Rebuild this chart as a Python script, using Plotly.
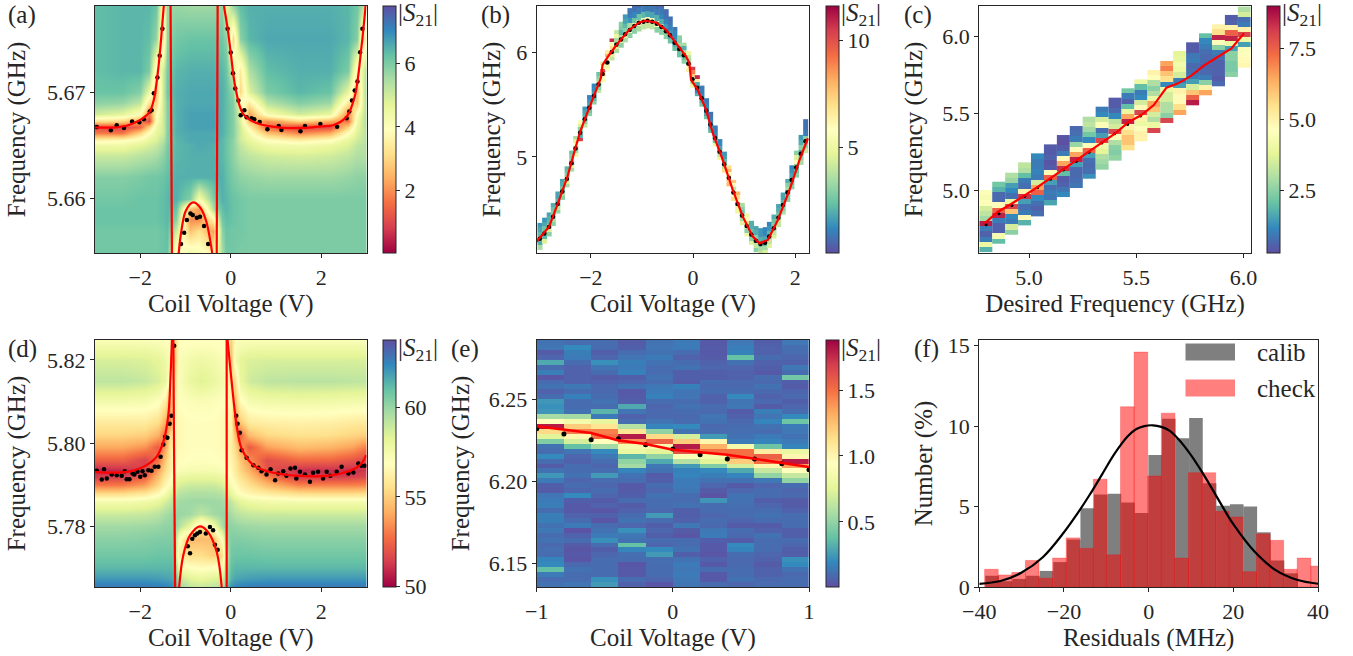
import numpy as np
import plotly.graph_objects as go

W, H = 1353, 656
FONT = "Liberation Serif"
INK = "#262626"

# ---------- panel (a) ----------
a_x = [-3,-2.4,-2,-1.8,-1.65,-1.5,-1.4,-1.2,-0.9,-0.7,-0.4,-0.2,-0.1,0.05,0.2,0.4,0.8,1.5,2.2,2.6,2.8,2.92,3]
a_y = [5.6781,5.675,5.672,5.670,5.669,5.668,5.6673,5.6667,5.6662,5.6655,5.665,5.664,5.662,5.660,5.659,5.658,5.657,5.6549]
a_z = [
 [6.3,6.4,6.4,6.4,6.2,4.0,5.6,5.7,5.6,5.6,5.6,5.7,4.5,5.7,6.3,6.5,6.5,6.5,6.5,6.4,6.1,5.4,3.5],
 [6.3,6.4,6.4,6.3,5.7,3.2,5.7,6.1,6.2,6.2,6.2,6.1,5.8,3.0,5.8,6.4,6.6,6.6,6.6,6.4,5.9,3.0,4.0],
 [6.3,6.4,6.4,6.0,3.5,5.0,6.0,6.4,6.5,6.5,6.5,6.4,6.2,4.8,3.4,5.4,6.3,6.5,6.5,6.0,3.5,4.8,5.6],
 [6.2,6.2,5.9,4.5,2.6,5.0,6.1,6.5,6.6,6.6,6.6,6.5,6.3,5.7,3.0,4.8,6.0,6.4,6.2,4.6,2.5,4.8,5.7],
 [5.8,5.7,5.2,3.2,3.0,5.0,5.9,6.5,6.6,6.6,6.6,6.5,6.3,5.9,4.3,3.4,5.3,5.9,5.6,3.3,2.8,4.8,5.6],
 [5.0,4.7,4.0,1.7,3.8,5.0,5.9,6.5,6.7,6.7,6.7,6.5,6.3,5.9,4.8,2.2,4.2,5.0,4.6,1.9,4.0,5.0,5.5],
 [3.2,3.0,2.0,1.0,4.0,5.0,5.9,6.5,6.7,6.7,6.7,6.5,6.3,5.9,4.8,2.6,2.0,3.0,2.4,1.6,4.4,5.1,5.5],
 [1.0,1.0,1.5,3.0,4.4,5.0,5.9,6.5,6.7,6.7,6.7,6.5,6.3,5.9,5.0,3.6,1.5,0.9,1.1,3.0,4.6,5.1,5.4],
 [1.8,1.7,3.0,4.0,4.6,5.0,5.9,6.5,6.6,6.6,6.6,6.5,6.3,5.9,5.0,4.2,2.7,1.9,2.4,3.9,4.8,5.1,5.4],
 [3.6,3.8,4.2,4.6,4.8,5.3,5.9,6.4,6.6,6.6,6.6,6.4,6.2,5.8,5.0,4.6,3.9,3.5,3.9,4.6,5.0,5.2,5.4],
 [4.4,4.4,4.7,4.9,5.1,5.5,6.0,6.4,6.5,6.6,6.5,6.4,6.2,5.8,5.2,4.8,4.4,4.3,4.5,4.8,5.2,5.3,5.4],
 [5.1,5.1,5.3,5.4,5.5,5.8,6.1,6.4,6.5,6.5,6.5,6.4,6.2,5.8,5.4,5.2,5.0,4.9,5.0,5.2,5.4,5.4,5.4],
 [5.9,5.9,6.0,6.1,6.1,6.2,6.3,6.5,6.5,6.5,6.5,6.5,6.3,6.0,5.8,5.7,5.6,5.6,5.6,5.7,5.8,5.8,5.8],
 [6.1,6.1,6.2,6.2,6.2,6.3,6.4,6.5,5.9,4.2,5.9,6.5,6.4,6.2,6.1,6.0,6.0,6.0,6.0,6.0,6.0,6.0,6.0],
 [6.2,6.2,6.2,6.2,6.2,6.3,6.4,6.2,2.6,2.2,5.4,6.3,6.4,6.2,6.1,6.0,6.0,6.0,6.0,6.0,6.0,6.0,6.0],
 [6.2,6.2,6.2,6.2,6.2,6.3,6.4,5.8,2.0,2.0,3.5,6.1,6.3,6.2,6.1,6.0,6.0,6.0,6.0,6.0,6.0,6.0,6.0],
 [6.1,6.1,6.1,6.1,6.1,6.2,6.3,5.0,2.7,3.2,2.2,5.8,6.2,6.1,6.1,6.0,6.0,6.0,6.0,6.0,6.0,6.0,6.0],
 [6.1,6.1,6.1,6.1,6.1,6.2,6.2,3.6,4.4,4.2,3.6,5.5,6.1,6.1,6.0,6.0,6.0,6.0,6.0,6.0,6.0,6.0,6.0],
]
a_dots_x = [-2.96,-2.65,-2.52,-2.36,-2.18,-2.02,-1.92,-1.79,-1.75,-1.70,-1.62,-1.57,-1.51,
            -0.07,0.0,0.05,0.10,0.17,0.22,0.30,0.35,0.46,0.52,0.64,0.81,1.06,1.12,1.54,1.64,1.98,2.35,2.56,2.62,2.68,2.74,2.80,2.86,2.91,
            -1.10,-1.03,-0.97,-0.89,-0.84,-0.75,-0.68,-0.59,-0.50]
a_dots_y = [5.66674,5.66643,5.66690,5.66665,5.66724,5.66718,5.66746,5.66818,5.66831,5.66991,5.67138,5.67342,5.67596,
            5.67596,5.67373,5.67179,5.67034,5.66922,5.66784,5.66831,5.66765,5.66755,5.66746,5.66721,5.66652,5.66683,5.66646,5.66633,5.66683,5.66702,5.66677,5.66755,5.66818,5.66922,5.67016,5.67100,5.67376,5.67596,
            5.65574,5.65680,5.65799,5.65862,5.65846,5.65821,5.65831,5.65743,5.65574]
a_left_x = [-3,-2.6,-2.3,-2.0,-1.8,-1.7,-1.63,-1.57,-1.52,-1.48]
a_left_y = [5.66670,5.66668,5.66685,5.6674,5.6681,5.6693,5.6712,5.6735,5.6760,5.6781]
a_right_x = [-0.15,-0.07,0.0,0.1,0.27,0.57,1.16,1.6,2.0,2.26,2.56,2.74,2.89,2.98]
a_right_y = [5.6781,5.6760,5.6737,5.6705,5.6680,5.6671,5.66665,5.66665,5.6668,5.6669,5.6677,5.6696,5.6743,5.6781]
a_par_x = [-1.15,-1.09,-0.99,-0.83,-0.68,-0.55,-0.41]
a_par_y = [5.6549,5.6570,5.6589,5.65965,5.6592,5.6580,5.6549]
a_v1_x = [-1.33,-1.30]
a_v2_x = [-0.29,-0.31]
a_v_y = [5.6781,5.6549]

# ---------- panel (b) ----------
b_dots_x = [-3.00,-2.91,-2.82,-2.74,-2.65,-2.56,-2.47,-2.38,-2.30,-2.21,-2.12,-2.03,-1.94,-1.85,-1.77,-1.68,-1.59,-1.50,-1.41,-1.33,
            -1.24,-1.15,-1.06,-0.97,-0.89,-0.80,-0.71,-0.62,-0.53,-0.45,-0.36,-0.27,-0.18,-0.09,-0.01,0.08,0.17,0.26,0.34,0.43,
            0.52,0.61,0.70,0.79,0.87,0.96,1.05,1.14,1.23,1.32,1.41,1.49,1.58,1.67,1.76,1.85,1.93,2.02,2.11,2.20]
b_dots_y = [4.22,4.27,4.33,4.43,4.55,4.67,4.79,4.94,5.08,5.23,5.36,5.47,5.58,5.69,5.79,5.90,6.00,6.07,6.12,6.17,
            6.21,6.25,6.28,6.29,6.30,6.29,6.27,6.24,6.20,6.16,6.09,6.03,5.97,5.89,5.74,5.66,5.56,5.44,5.31,5.18,
            5.05,4.93,4.80,4.66,4.55,4.44,4.34,4.26,4.20,4.17,4.18,4.24,4.32,4.42,4.54,4.66,4.78,4.90,5.03,5.15]
b_stripes = [
 [1.5,1.8,2.2,2.6,2.0,3.5],[1.5,1.8,2.5,3,2.2,4.5],[1.8,2,2.2,3,4.5,3],[2,2.5,3,4,3.5,3],[1.8,1.8,2.2,2.6,4,3.2],
 [1.8,2,2.5,2.6,3.5,3],[2.2,2.5,3,4,4.5,3.5],[2.5,2.8,3.2,2.2,5,3.5],[3.5,4.5,6,3,3.5,5],[5.5,4.5,3,2.5,2,10.5],
 [1.5,1.8,2,2.5,3,4],[1.2,1.5,1.8,2,2.5,3],[1.2,1.3,1.6,2,2.2,3],[2.5,3,3.5,2.5,3,4],[4.5,6,10.5,8,6,5.5],
 [6.5,8,6,3,5,6],[10.8,5.5,7,6,4.5,4],[4,5,3.5,3,4.5,3.5],[3,2.8,2.2,3.5,4.5,3],[1.6,1.8,2.2,3,5,3.5],
 [0.9,1,1.5,3.5,5.5,3],[0.7,.8,1.2,2.5,5.5,3],[.6,.7,1,2.5,6,3.5],[.5,.6,1,2.2,6,4],[.5,.6,.9,1.8,6,4],
 [.5,.7,.9,1.8,5.5,4],[.6,.7,1,2,5.5,3],[.7,.9,1.2,2,3.5,3],[.7,.8,1.1,1.6,3,3],[.8,.9,1.1,1.5,2,2.5],
 [1,1.2,1.2,1.5,2,2.5],[3,3,3.5,2.5,2.5,2.5],[3.5,2,3.5,3,2.5,3],[5,4,3.5,2,6,6.5],[10.5,9,7.5,5.5,3.5,5],
 [10.8,6.5,2,1.2,1.2,2],[1,1,1.2,1.4,2,2.5],[.9,1,1.2,1.5,1.8,2.5],[.8,.9,1.1,1.4,1.8,2.2],[1,1,1.2,1.5,2.5,5],
 [1.2,1.3,1.8,2.5,4,5],[1.5,1.6,2.2,3,4,7],[7,8,6,6,7.5,8],[7.5,6,4,5,6,7],[8,7,6,4,5,5],
 [3.5,3,2.5,3,3.5,4.5],[5,6,7,4,3,5],[2,2,2.5,3,3,4.5],[1.8,2,3,2.2,4,3],[1.5,1.5,2,3,3.5,4],
 [1.2,1.2,1.8,2.2,3.5,4.5],[1.2,1.5,2.2,3,4,4.5],[2,2.5,3,3.5,4,4.5],[1.8,2,2.5,3,4,4],[1.8,1.8,2.2,2.5,3,3.5],
 [2,3,3.5,2,3,3],[1.2,1.4,1.8,2,2.5,3],[3,4.5,6,3,2.5,3],[1.6,2,3,2,3,3.5],[.8,.8,1,3,3,4],
]
b_above = [.15,.15,.14,.13,.12,.12,.12,.12,.12,.12,.12,.12,.12,.12,.12,.12,.13,.14,.17,.19,
           .21,.23,.25,.26,.26,.26,.25,.23,.21,.18,.15,.13,.12,.12,.12,.12,.12,.12,.12,.12,
           .12,.12,.12,.12,.12,.12,.12,.13,.14,.15,.15,.14,.13,.13,.12,.13,.14,.16,.18,.21]
b_below = [.11,.1,.09,.09,.09,.08,.08,.08,.08,.08,.08,.08,.08,.08,.08,.08,.08,.08,.08,.08,
           .08,.08,.08,.07,.07,.07,.08,.08,.08,.08,.08,.08,.08,.08,.08,.08,.08,.08,.08,.08,
           .08,.08,.08,.08,.09,.09,.1,.1,.11,.12,.12,.11,.1,.09,.09,.09,.09,.1,.11,.115]
b_cell = 0.0885
b_line_x = [-3.065,-2.817,-2.62,-2.458,-2.294,-2.196,-2.098,-1.967,-1.869,-1.804,-1.771,-1.64,-1.444,-1.248,-1.052,-0.922,-0.725,-0.529,-0.333,-0.137,-0.072,-0.039,0.092,0.255,0.386,0.582,0.778,0.974,1.17,1.301,1.464,1.66,1.889,2.085,2.248]
b_line_y = [4.191,4.334,4.589,4.812,5.099,5.258,5.385,5.545,5.672,5.752,5.879,5.975,6.102,6.213,6.283,6.299,6.283,6.213,6.086,5.959,5.895,5.736,5.64,5.449,5.226,4.971,4.685,4.43,4.239,4.175,4.207,4.398,4.685,4.971,5.178]

# ---------- panel (c) ----------
c_left = 4.768
c_cell = 0.0603
c_tops = [5.0045,5.0586,5.1171,5.1842,5.2426,5.3010,5.3616,5.4201,5.4807,5.5456,5.6041,5.6647,5.7231,5.7837,5.8422,5.9071,5.9634,6.0218,6.0803,6.1409,6.195]
c_bots = [4.6,4.658,4.7166,4.773,4.836,4.9028,4.9612,5.02,5.0759,5.1344,5.1950,5.2599,5.3184,5.3768,5.4374,5.4915,5.5521,5.6170,5.6798,5.7404,5.7989]
c_stripes = [
 [4.5,4.3,4.5,3.5,3.2,2.8,8.6,1.0,0.6,1.0,4.0,1.8],
 [2.2,1.8,.7,.7,4.5,7.5,8.5,1,.6,.6,4.3,2.0],
 [3,2.7,1.5,1.2,.8,4,8,6,1.2,1,3.5,2.5],
 [3.2,3,2,1,.8,5,8.3,1.5,.8,1,4.8,1.8],
 [1.2,1,1,1.1,1,3.5,6.5,7.5,1.2,.8,.6,.8],
 [.5,.5,.6,.4,.5,4.5,7.5,1.5,.8,1,.9,1.6],
 [.4,.3,.5,1,4.8,6.5,8.3,2,.5,.6,.9,1.2],
 [.7,.8,1,2.7,4.5,6.5,8.5,1.5,.7,.7,.8,.9],
 [3,3.2,2.8,2.2,1.2,4.5,7.5,1.5,.8,.7,.8,1.3],
 [1,1.2,3.5,4.5,.8,1.5,8,4.2,3.8,3,2.8,2.6],
 [.5,.5,.7,1.2,3.2,3.5,8,4.5,3,2.5,2.4,2.6],
 [2.2,1,.6,2,4,6.5,8.5,5,5.5,6,6,5.5],
 [4,2,1,1.2,3.5,4.8,8,5,4,4.5,5,5],
 [5,4.5,3,2.5,3,4,6.5,6,3.5,3,4,8],
 [6.5,7,6,5.5,1.2,4,3.5,3.5,3,3,2.5,8],
 [3.8,3.9,4.2,4,3.5,1,1.5,5,4.8,4.8,5.5,6.5],
 [.5,.5,.9,1,.7,.8,1,1.5,3.5,6,7.5,8.6],
 [2,1.2,1,.8,.7,.7,.6,.7,1,2.5,5,6.5],
 [5,5.5,8.5,4.5,2.5,1,.8,.6,.6,.6,.5,.7],
 [.5,.6,5,7.5,8.5,4,1.5,2.5,2.5,2.3,2.3,2.5],
 [3,3.5,.8,1,5,8,4,1.5,4.5,4.6,4.8,4.9],
]
c_line_x = [4.793,4.855,4.917,4.98,5.042,5.104,5.166,5.228,5.283,5.345,5.407,5.462,5.524,5.582,5.641,5.696,5.757,5.82,5.882,5.944,6.003]
c_line_y = [4.788,4.864,4.914,4.968,5.026,5.085,5.145,5.204,5.258,5.318,5.377,5.444,5.491,5.556,5.669,5.697,5.747,5.816,5.870,5.924,6.022]
c_dots_x = [4.80,4.86,4.92,4.98,5.04,5.10,5.16,5.22,5.28,5.34,5.40,5.46,5.52]
c_dots_y = [4.78,4.85,4.905,4.965,5.02,5.075,5.135,5.19,5.25,5.31,5.37,5.43,5.485]

# ---------- panel (d) ----------
d_x = [-3,-2.4,-1.9,-1.6,-1.45,-1.35,-1.25,-1.15,-0.9,-0.65,-0.4,-0.2,-0.1,0,0.1,0.2,0.4,0.8,1.5,2.2,2.7,3]
d_y = [5.8248,5.820,5.815,5.810,5.805,5.802,5.799,5.796,5.7935,5.792,5.790,5.788,5.786,5.783,5.780,5.777,5.773,5.770,5.7675,5.7654]
d_z = [
 [57.2,57.2,57.2,57.1,57,56.8,55,56.8,56.8,56.8,56.8,56.8,56.8,55,57,57.1,57.2,57.2,57.2,57.2,57.2,57.2],
 [58.6,58.6,58.5,58.2,57.8,57.2,54,57.2,57.6,57.8,57.6,57.2,57,54.5,57.5,58.2,58.5,58.6,58.6,58.6,58.6,58.6],
 [59.2,59.2,59,58.6,58,56.5,55,57.2,58,58.4,58,57.5,57.1,55.5,55.5,58,58.8,59.2,59.3,59.3,59.2,59.2],
 [57.5,57.5,57.4,57,56,54,56,56.9,57.1,57.2,57.1,56.9,56.8,56.5,54.5,56.6,57.4,57.6,57.7,57.6,57.5,57.5],
 [56,56,56,55.5,54.2,53,56.4,56.6,56.8,56.8,56.8,56.6,56.5,56.3,53,54.8,56,56.2,56.3,56.2,56,55.9],
 [55.2,55.2,55,54.2,52.5,55.5,56.4,56.6,56.8,56.8,56.8,56.6,56.5,56.2,54.5,52.5,54.5,55.3,55.6,55.5,55.2,55],
 [54,54,53.5,52.2,53.8,55.8,56.4,56.6,56.8,56.8,56.8,56.6,56.5,56.2,55.3,53.8,52.2,53.8,54.5,54.3,53.8,53],
 [52.4,52.4,51.5,52.8,54.8,56,56.6,56.8,56.9,57,56.9,56.8,56.7,56.4,55.8,54.8,53.5,51.8,52.6,52.5,52,51.5],
 [50.8,50.9,51.5,53.8,55.4,56.2,56.8,57.2,57.4,57.4,57.4,57.2,56.8,56.6,56,55.2,54.2,52,51,51,51,51.2],
 [51.3,51.3,52.3,54.5,55.8,56.6,57.4,57.8,58,58,58,57.8,57.3,56.8,56.2,55.6,54.8,53,51.2,51.2,51.4,51.6],
 [53,53,53.8,55.3,56.5,57.2,58.1,58.6,58.9,58.9,58.9,58.6,58,57.4,56.8,56.2,55.6,54.5,53.2,53.2,53.2,53.3],
 [55.3,55.3,55.8,56.6,57.4,58.2,58.9,59.3,59.5,59.5,59.5,59.3,58.8,58,57.4,56.8,56.4,56,55.4,55.3,55.3,55.4],
 [57.4,57.4,57.6,58,58.6,59,59.5,59.8,59.9,59.9,59.9,59.8,59.5,59,58.6,58.2,57.8,57.5,57.4,57.4,57.4,57.4],
 [58.9,58.9,59,59.3,59.7,59.9,60,60,59.8,59.2,59.8,60,60,59.7,59.4,59.2,59,58.9,58.9,58.9,58.9,58.9],
 [59.8,59.8,59.9,60,60.2,60.2,60.3,59.4,58,55.5,57.5,59.6,60.2,60.2,60.1,60,59.9,59.8,59.8,59.8,59.8,59.8],
 [60.3,60.3,60.4,60.5,60.5,60.5,60.3,57,54.5,54.5,54.5,57,59.8,60.5,60.5,60.5,60.4,60.3,60.3,60.3,60.3,60.3],
 [60.8,60.8,60.8,60.9,60.9,60.9,60.5,56,55.5,55.5,55,55.5,59,60.8,60.9,60.9,60.9,60.8,60.8,60.8,60.8,60.8],
 [61.3,61.3,61.3,61.3,61.3,61.3,61,57.5,57,56.8,57,57,59.5,61.1,61.3,61.3,61.3,61.3,61.3,61.3,61.3,61.3],
 [62,62,62,61.9,61.8,61.7,61.5,59,58.3,58,58.3,58.5,60,61.4,61.7,61.8,61.9,62,62,62,62,62],
 [62.8,62.8,62.8,62.7,62.6,62.4,62.1,60,59.2,59,59.2,59.5,60.8,62.2,62.5,62.6,62.7,62.8,62.8,62.8,62.8,62.8],
]
d_dots_x = [-2.96,-2.85,-2.80,-2.74,-2.63,-2.52,-2.41,-2.34,-2.30,-2.24,-2.17,-2.13,-2.06,-2.0,-1.95,-1.90,-1.82,-1.75,-1.68,-1.60,-1.55,-1.49,-1.45,-1.40,-1.35,-1.31,-1.25,
            0.12,0.15,0.20,0.24,0.35,0.50,0.61,0.68,0.79,0.88,0.98,1.05,1.16,1.23,1.32,1.42,1.45,1.53,1.64,1.75,1.82,1.93,2.04,2.12,2.20,2.34,2.45,2.60,2.71,2.82,2.89,2.96,
            -0.95,-0.90,-0.85,-0.79,-0.74,-0.68,-0.55,-0.46,-0.39,-0.35,-0.29]
d_dots_y = [5.79334,5.79125,5.79374,5.79149,5.79245,5.79229,5.79213,5.79325,5.79133,5.79133,5.79269,5.79245,5.79309,5.79189,5.79325,5.79229,5.7935,5.79334,5.7943,5.7943,5.7967,5.79968,5.80153,5.80128,5.80466,5.80658,5.8234,
            5.80658,5.80466,5.80249,5.79831,5.79647,5.7947,5.79406,5.79325,5.79245,5.79374,5.79109,5.79269,5.79325,5.79213,5.7939,5.79406,5.79149,5.79309,5.79245,5.79069,5.79285,5.79309,5.79149,5.79309,5.79213,5.79309,5.7943,5.79269,5.79293,5.7951,5.79454,5.79454,
            5.77519,5.7735,5.77703,5.77784,5.77824,5.77864,5.77824,5.77984,5.77904,5.77559,5.77438]
d_left_x = [-3,-2.52,-2.15,-1.86,-1.64,-1.49,-1.38,-1.33,-1.30]
d_left_y = [5.7931,5.7929,5.7934,5.7947,5.7967,5.8003,5.8067,5.8164,5.8248]
d_right_x = [-0.07,0.02,0.13,0.24,0.5,0.79,1.53,2.26,2.71,2.89,2.99]
d_right_y = [5.8248,5.8148,5.8043,5.7987,5.7947,5.7933,5.7921,5.7923,5.7937,5.7951,5.7971]
d_par_x = [-1.14,-1.05,-0.90,-0.68,-0.5,-0.31,-0.20]
d_par_y = [5.7654,5.7730,5.7778,5.7800,5.7786,5.7738,5.7654]
d_v1_x = [-1.27,-1.23]
d_v2_x = [-0.09,-0.09]
d_v_y = [5.8248,5.7654]

# ---------- panel (e) ----------
e_x = [-1,-0.8,-0.6,-0.4,-0.2,0,0.2,0.4,0.6,0.8,1]
e_top, e_bottom = 6.2859, 6.1358
e_z = [
 [.12,.1,.1,.05,.12,.15,.04,.14,.06,.14],[.13,.2,.1,.06,.13,.15,.05,.16,.07,.11],[.05,.16,.06,.1,.12,.1,.04,.17,.07,.1],
 [.08,.15,.08,.13,.15,.07,.05,.38,.1,.08],[.3,.1,.22,.16,.12,.1,.07,.12,.07,.07],[.1,.07,.13,.15,.1,.12,.08,.08,.06,.14],
 [.16,.07,.1,.17,.1,.06,.06,.07,.04,.1],[.03,.07,.05,.06,.12,.06,.06,.07,.1,.42],[.1,.07,.07,.08,.1,.05,.1,.09,.09,.06],
 [.12,.14,.09,.12,.14,.17,.09,.09,.12,.05],[.07,.1,.09,.04,.15,.13,.1,.1,.09,.08],[.1,.17,.1,.05,.17,.13,.07,.2,.07,.09],
 [.24,.1,.12,.06,.1,.1,.07,.13,.09,.06],[.22,.1,.1,.3,.08,.12,.1,.14,.05,.08],[.24,.12,.34,.13,.09,.1,.09,.05,.16,.1],
 [.56,.55,.15,.07,.09,.09,.13,.07,.13,.2],[.95,.85,.78,.1,.13,.1,.12,.09,.18,.4],[1.8,1.2,1.1,.6,.18,.2,.09,.1,.12,.15],
 [1.15,1.45,1.45,1.1,.5,.12,.1,.11,.1,.14],[.75,1.0,1.5,1.8,1.15,.7,.25,.12,.15,.12],[.45,.7,.95,1.4,1.55,1.2,1.0,.15,.18,.15],
 [.12,.38,.55,.85,1.0,1.8,1.3,.85,.4,.18],[.1,.13,.2,.8,.75,1.6,1.5,1.5,1.05,.8],[.2,.08,.14,.35,.5,.9,.85,1.5,1.55,1.0],
 [.1,.07,.1,.5,.3,.6,.75,1.2,1.5,1.8],[.05,.1,.08,.55,.14,.25,.45,.7,1.0,1.35],[.12,.1,.1,.18,.12,.17,.2,.3,.65,.95],
 [.24,.12,.25,.12,.05,.18,.16,.18,.5,.65],[.15,.08,.1,.1,.06,.15,.12,.12,.14,.5],[.06,.1,.08,.04,.1,.15,.08,.05,.08,.1],
 [.05,.08,.1,.05,.08,.14,.05,.08,.1,.08],[.13,.2,.08,.06,.12,.1,.02,.12,.1,.09],[.15,.06,.05,.1,.1,.1,.24,.12,.06,.05],
 [.16,.04,.07,.05,.1,.12,.1,.11,.08,.05],[.1,.04,.03,.07,.09,.06,.1,.1,.1,.07],[.16,.07,.07,.1,.25,.06,.08,.1,.12,.1],
 [.16,.1,.03,.12,.1,.07,.1,.08,.1,.1],[.12,.15,.1,.08,.06,.14,.09,.05,.05,.1],[.14,.02,.12,.22,.08,.05,.14,.1,.07,.06],
 [.1,.07,.15,.14,.06,.03,.15,.09,.12,.06],[.12,.1,.22,.12,.1,.1,.06,.05,.1,.1],[.09,.05,.1,.38,.08,.1,.04,.2,.1,.08],
 [.11,.03,.06,.18,.2,.12,.04,.18,.1,.06],[.1,.04,.08,.11,.25,.06,.03,.1,.08,.06],[.18,.03,.1,.1,.11,.12,.07,.09,.07,.22],
 [.2,.09,.1,.03,.1,.15,.04,.09,.05,.2],[.37,.12,.1,.04,.1,.14,.1,.1,.07,.12],[.15,.1,.1,.04,.1,.15,.04,.1,.07,.09],
 [.1,.1,.22,.1,.08,.14,.04,.12,.09,.1],[.12,.13,.25,.07,.03,.13,.1,.08,.1,.1],
]
e_pts_x = [-1,-0.8,-0.6,-0.4,-0.2,0,0.2,0.4,0.6,0.8,1]
e_line_y = [6.2335,6.2314,6.2294,6.2249,6.2227,6.2192,6.2178,6.2162,6.2137,6.2111,6.2087]
e_dots_y = [6.2320,6.2288,6.2253,6.2259,6.2223,6.2196,6.2162,6.2136,6.2136,6.2107,6.2071]

# ---------- panel (f) ----------
f_width = 3.21
f_calib_start = -38.58
f_check_start = -38.74
f_calib = [.7,.35,.5,.7,1.0,1.55,2.95,4.9,5.75,5.8,5.25,4.6,8.2,10.45,9.25,10.5,6.45,5.05,5.15,5.0,3.4,1.65,.85]
f_check = [1.1,.75,.9,1.65,.55,1.8,3.05,2.4,6.7,2.0,11.2,14.6,6.9,10.8,1.8,7.1,7.1,4.7,4.35,.95,3.3,2.9,1.1,1.8,1.3]
f_fit_x = [-40,-35,-30,-25,-20,-17,-14,-11,-8,-5,-3,-1,1,3,5,7,10,12,15,17,20,25,30,35,40]
f_fit_y = [.2,.37,.9,1.85,3.4,4.5,5.7,7.0,8.3,9.35,9.8,10.0,10.05,9.95,9.7,9.2,8.2,7.4,6.1,5.2,3.9,2.2,1.05,.45,.2]

# ---------- layout geometry (pixels) ----------
PANELS = {
 "a": (95, 366.5, 6, 253), "b": (536.7, 809, 6, 253), "c": (979.3, 1250.7, 6, 253),
 "d": (95, 366.5, 340, 587), "e": (536.7, 809, 340, 587), "f": (979.3, 1318, 340, 587),
}
CBARS = {"a": (383, 6, 253), "b": (825.7, 6, 253), "c": (1267.3, 6, 253),
         "d": (383, 340, 587), "e": (825.7, 340, 587)}
RANGES = {
 "a": ((-3, 3), (5.6549, 5.6781)), "b": ((-3.06, 2.27), (4.083, 6.44)), "c": ((4.768, 6.034), (4.596, 6.199)),
 "d": ((-3, 3), (5.7654, 5.8248)), "e": ((-1, 1), (6.1358, 6.2859)), "f": ((-40, 40), (0, 15.35)),
}
XT = {"a": [-2, 0, 2], "b": [-2, 0, 2], "c": [5.0, 5.5, 6.0], "d": [-2, 0, 2], "e": [-1, 0, 1], "f": [-40, -20, 0, 20, 40]}
XF = {"c": ".1f"}
YT = {"a": [5.66, 5.67], "b": [5, 6], "c": [5.0, 5.5, 6.0], "d": [5.78, 5.80, 5.82], "e": [6.15, 6.20, 6.25], "f": [0, 5, 10, 15]}
YF = {"a": ".2f", "c": ".1f", "d": ".2f", "e": ".2f"}
XTITLE = {"a": "Coil Voltage (V)", "b": "Coil Voltage (V)", "c": "Desired Frequency (GHz)",
          "d": "Coil Voltage (V)", "e": "Coil Voltage (V)", "f": "Residuals (MHz)"}
YTITLE = {"a": "Frequency (GHz)", "b": "Frequency (GHz)", "c": "Frequency (GHz)",
          "d": "Frequency (GHz)", "e": "Frequency (GHz)", "f": "Number (%)"}
CB = {
 "a": (0.04, 7.8, [2, 4, 6], ["2", "4", "6"], "Spectral"),
 "b": (0.1, 11.6, [5, 10], ["5", "10"], "Spectral_r"),
 "c": (0.31, 8.99, [2.5, 5, 7.5], ["2.5", "5.0", "7.5"], "Spectral_r"),
 "d": (49.95, 63.8, [50, 55, 60], ["50", "55", "60"], "Spectral"),
 "e": (0.006, 1.88, [0.5, 1, 1.5], ["0.5", "1.0", "1.5"], "Spectral_r"),
}
LETTERS = {"a": (6, 15), "b": (479, 15), "c": (902, 15), "d": (6, 349), "e": (449, 349), "f": (912, 349)}

IDX = {k: i + 1 for i, k in enumerate("abcdef")}
def ax(k): return ("x%d" % IDX[k], "y%d" % IDX[k])
def cax(k): return "coloraxis" if IDX[k] == 1 else "coloraxis%d" % IDX[k]
def laykey(base, k): return base if IDX[k] == 1 else "%s%d" % (base, IDX[k])

fig = go.Figure()

def line(k, xs, ys, smooth=False, width=2.2, color="#ff0000"):
    xa, ya = ax(k)
    fig.add_trace(go.Scatter(x=xs, y=ys, mode="lines", xaxis=xa, yaxis=ya, showlegend=False, hoverinfo="skip",
                             line=dict(color=color, width=width, shape="spline" if smooth else "linear")))
def dots(k, xs, ys, size=4.5):
    xa, ya = ax(k)
    fig.add_trace(go.Scatter(x=xs, y=ys, mode="markers", xaxis=xa, yaxis=ya, showlegend=False, hoverinfo="skip",
                             marker=dict(color="black", size=size)))
def column(k, left, right, bottom, top, vals):
    xa, ya = ax(k)
    edges = np.linspace(top, bottom, len(vals) + 1)[::-1].tolist()
    fig.add_trace(go.Heatmap(x=[left, right], y=edges, z=[[v] for v in vals[::-1]], xaxis=xa, yaxis=ya,
                             coloraxis=cax(k), hoverinfo="skip"))

# (a)
fig.add_trace(go.Heatmap(x=a_x, y=a_y[::-1], z=a_z[::-1], xaxis="x1", yaxis="y1", coloraxis=cax("a"), zsmooth="best", hoverinfo="skip"))
dots("a", a_dots_x, a_dots_y)
line("a", a_left_x, a_left_y, True); line("a", a_right_x, a_right_y, True); line("a", a_par_x, a_par_y, True)
line("a", a_v1_x, a_v_y); line("a", a_v2_x, a_v_y)
# (b)
for i, (cx, cy) in enumerate(zip(b_dots_x, b_dots_y)):
    column("b", cx - b_cell / 2, cx + b_cell / 2, cy - b_below[i], cy + b_above[i], b_stripes[i])
dots("b", b_dots_x, b_dots_y)
line("b", b_line_x, b_line_y)
# (c)
for i in range(len(c_tops)):
    column("c", c_left + i * c_cell, c_left + (i + 1) * c_cell, c_bots[i], c_tops[i], c_stripes[i])
dots("c", c_dots_x, c_dots_y, 3)
line("c", c_line_x, c_line_y)
# (d)
fig.add_trace(go.Heatmap(x=d_x, y=d_y[::-1], z=d_z[::-1], xaxis="x4", yaxis="y4", coloraxis=cax("d"), zsmooth="best", hoverinfo="skip"))
dots("d", d_dots_x, d_dots_y)
line("d", d_left_x, d_left_y, True); line("d", d_right_x, d_right_y, True); line("d", d_par_x, d_par_y, True)
line("d", d_v1_x, d_v_y); line("d", d_v2_x, d_v_y)
# (e)
fig.add_trace(go.Heatmap(x=e_x, y=np.linspace(e_bottom, e_top, len(e_z) + 1).tolist(), z=e_z[::-1],
                         xaxis="x5", yaxis="y5", coloraxis=cax("e"), hoverinfo="skip"))
dots("e", e_pts_x, e_dots_y, 5)
line("e", e_pts_x, e_line_y, width=2.6)
# (f)
fig.add_trace(go.Bar(x=[f_calib_start + i * f_width for i in range(len(f_calib))], y=f_calib, width=f_width, offset=0,
                     xaxis="x6", yaxis="y6", name="calib", showlegend=False, marker=dict(color="rgba(0,0,0,0.5)", line=dict(width=0)), hoverinfo="skip"))
fig.add_trace(go.Bar(x=[f_check_start + i * f_width for i in range(len(f_check))], y=f_check, width=f_width, offset=0,
                     xaxis="x6", yaxis="y6", name="check", showlegend=False, marker=dict(color="rgba(255,0,0,0.5)", line=dict(color="rgba(255,0,0,0.35)", width=0.8)), hoverinfo="skip"))
line("f", f_fit_x, f_fit_y, True, color="black", width=2.2)

layout = dict(width=W, height=H, autosize=False, margin=dict(l=0, r=0, t=0, b=0), paper_bgcolor="white", plot_bgcolor="white",
              font=dict(family=FONT, size=22, color=INK), barmode="overlay", showlegend=False)
annotations, shapes = [], []
TITLE_SIZE = 25
STANDOFF_X = {"a": 2, "b": 2, "c": 2, "d": 2, "e": 2, "f": 2}
STANDOFF_Y = {"a": 14, "b": 8, "c": 12, "d": 14, "e": 11, "f": 8}

for k, (l, r, t, b) in PANELS.items():
    xr, yr = RANGES[k]
    layout[laykey("xaxis", k)] = dict(domain=[l / W, r / W], range=list(xr), anchor=ax(k)[1], tickvals=XT[k], tickformat=XF.get(k, "d"),
        ticks="outside", ticklen=4, tickwidth=1, tickcolor=INK, showline=True, mirror=True, linecolor=INK, linewidth=1.2,
        showgrid=False, zeroline=False, automargin=False, tickfont=dict(size=22),
        title=dict(text=XTITLE[k], font=dict(size=TITLE_SIZE), standoff=STANDOFF_X[k]))
    layout[laykey("yaxis", k)] = dict(domain=[1 - b / H, 1 - t / H], range=list(yr), anchor=ax(k)[0], tickvals=YT[k], tickformat=YF.get(k, "d"),
        ticksuffix="\u2009", ticks="outside", ticklen=4, tickwidth=1, tickcolor=INK, showline=True, mirror=True, linecolor=INK, linewidth=1.2,
        showgrid=False, zeroline=False, automargin=False, tickfont=dict(size=22),
        title=dict(text=YTITLE[k], font=dict(size=TITLE_SIZE), standoff=STANDOFF_Y[k]))
    lx, ly = LETTERS[k]
    annotations.append(dict(text="(%s)" % k, xref="paper", yref="paper", x=lx / W, y=1 - ly / H, xanchor="left", yanchor="middle",
                            showarrow=False, font=dict(size=25, color=INK)))

for k, (cx, t, b) in CBARS.items():
    zmin, zmax, tv, tt, scale = CB[k]
    layout[laykey("coloraxis", k)] = dict(cmin=zmin, cmax=zmax, colorscale=scale, colorbar=dict(
        x=cx / W, xanchor="left", xpad=0, y=1 - b / H, yanchor="bottom", ypad=0, len=(b - t) / H, lenmode="fraction",
        thickness=13, thicknessmode="pixels", tickvals=tv, ticktext=tt, ticks="outside", ticklen=4, tickwidth=1, tickcolor=INK,
        outlinewidth=1, outlinecolor=INK, tickfont=dict(family=FONT, size=22, color=INK)))
    annotations.append(dict(text="|<i>S</i><sub>21</sub>|", xref="paper", yref="paper", x=(cx + 13) / W, y=1 - (t + 9) / H,
                            xanchor="left", yanchor="middle", showarrow=False, font=dict(size=25, color=INK)))

# legend of panel (f), drawn by hand to match the wide swatches
for label, colour, py in (("calib", "rgba(0,0,0,0.5)", 352), ("check", "rgba(255,0,0,0.5)", 388)):
    shapes.append(dict(type="rect", xref="paper", yref="paper", x0=1185.5 / W, x1=1235 / W, y0=1 - (py + 8.5) / H, y1=1 - (py - 8.5) / H,
                       fillcolor=colour, line=dict(width=0)))
    annotations.append(dict(text=label, xref="paper", yref="paper", x=1255 / W, y=1 - py / H, xanchor="left", yanchor="middle",
                            showarrow=False, font=dict(size=25, color=INK)))

layout["annotations"] = annotations
layout["shapes"] = shapes
fig.update_layout(**layout)
fig.write_html("out.html", post_script="document.body.style.margin='0';", config={"displayModeBar": False})
